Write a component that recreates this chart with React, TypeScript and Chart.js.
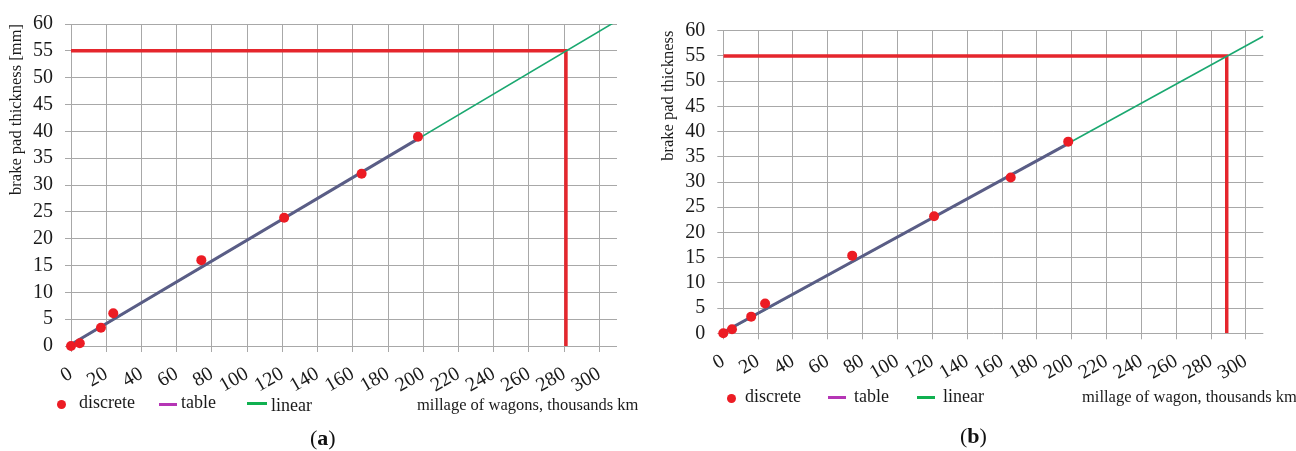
import React, { useEffect, useRef } from "react";
import { Chart, registerables } from "chart.js";

Chart.register(...registerables);

// ---------- data ----------
const xTickValues = [0, 20, 40, 60, 80, 100, 120, 140, 160, 180, 200, 220, 240, 260, 280, 300];
const yTickValues = [0, 5, 10, 15, 20, 25, 30, 35, 40, 45, 50, 55, 60];

// panel (a)
const discreteAX = [0, 5, 17, 24, 74, 121, 165, 197];
const discreteAY = [0, 0.5, 3.4, 6.1, 16, 23.9, 32.1, 39];
const tableAX = [0, 197];
const tableAY = [0.3, 38.6];
const linearAX = [0, 310];
const linearAY = [0.2, 60.6];
const limitAX = [0, 281, 281];
const limitAY = [55, 55, 0];

// panel (b)
const discreteBX = [0, 5, 16, 24, 74, 121, 165, 198];
const discreteBY = [0, 0.8, 3.3, 5.9, 15.4, 23.2, 30.9, 38];
const tableBX = [0, 198];
const tableBY = [0.2, 37.6];
const linearBX = [0, 310];
const linearBY = [0.1, 58.9];
const limitBX = [0, 289, 289];
const limitBY = [55, 55, 0];

const legendLabels = ["discrete", "table", "linear"];

// ---------- styles ----------
const SERIF = '"Liberation Serif", "Times New Roman", serif';
const RED = "#ec1c24";
const RED_LINE = "#e5262d";
const SLATE = "#5a5d86";
const GREEN = "#1aa870";
const LEG_MAGENTA = "#b535b5";
const LEG_GREEN = "#10b050";
const GRID = "#a8a8a8";

const pts = (xs: number[], ys: number[]) => xs.map((x, i) => ({ x, y: ys[i] }));

type PanelProps = {
  left: number;
  dx: number[]; dy: number[];
  tx: number[]; ty: number[];
  lx: number[]; ly: number[];
  rx: number[]; ry: number[];
  yTitle: string;
  yW: number; padRight: number; padTop: number; xH: number; titlePad: number;
};

function Panel(p: PanelProps) {
  const ref = useRef<HTMLCanvasElement | null>(null);
  useEffect(() => {
    if (!ref.current) return;
    const chart = new Chart(ref.current, {
      type: "scatter",
      data: {
        datasets: [
          {
            label: legendLabels[0],
            data: pts(p.dx, p.dy),
            showLine: false,
            pointRadius: 5,
            pointBackgroundColor: RED,
            pointBorderWidth: 0,
            backgroundColor: RED,
            clip: false,
          },
          {
            label: legendLabels[1],
            data: pts(p.tx, p.ty),
            showLine: true,
            borderColor: SLATE,
            borderWidth: 3,
            pointRadius: 0,
          },
          {
            label: legendLabels[2],
            data: pts(p.lx, p.ly),
            showLine: true,
            borderColor: GREEN,
            borderWidth: 1.6,
            pointRadius: 0,
          },
          {
            label: "limit",
            data: pts(p.rx, p.ry),
            showLine: true,
            borderColor: RED_LINE,
            borderWidth: 3.5,
            pointRadius: 0,
            borderCapStyle: "butt",
          },
        ],
      },
      options: {
        animation: false,
        responsive: false,
        maintainAspectRatio: false,
        events: [],
        layout: { padding: { left: 0, right: p.padRight, top: p.padTop, bottom: 0 } },
        plugins: { legend: { display: false }, tooltip: { enabled: false } },
        scales: {
          x: {
            type: "linear",
            min: 0,
            max: 310,
            afterBuildTicks: (s: any) => {
              s.ticks = xTickValues.map((v) => ({ value: v }));
            },
            afterFit: (s: any) => {
              s.height = p.xH;
            },
            grid: { color: GRID, lineWidth: 1, tickLength: 6, drawTicks: true },
            border: { display: false },
            ticks: {
              font: { family: SERIF, size: 20 },
              color: "#1a1a1a",
              minRotation: 30,
              maxRotation: 30,
              padding: 10,
              autoSkip: false,
            },
          },
          y: {
            type: "linear",
            min: 0,
            max: 60,
            afterBuildTicks: (s: any) => {
              s.ticks = yTickValues.map((v) => ({ value: v }));
            },
            afterFit: (s: any) => {
              s.width = p.yW;
            },
            grid: { color: GRID, lineWidth: 1, tickLength: 6, drawTicks: true },
            border: { display: false },
            title: {
              display: true,
              text: p.yTitle,
              align: "end",
              font: { family: SERIF, size: 16.5 },
              color: "#1a1a1a",
              padding: { top: p.titlePad, bottom: 0 },
            },
            ticks: {
              font: { family: SERIF, size: 20 },
              color: "#1a1a1a",
              padding: 12,
              autoSkip: false,
            },
          },
        },
      },
    } as any);
    return () => chart.destroy();
  }, []);
  return (
    <canvas
      ref={ref}
      width={648}
      height={451}
      style={{ position: "absolute", left: p.left, top: 0, width: 648, height: 451 }}
    />
  );
}

const txt = (x: number, top: number, size: number, s: string, extra: any = {}) => (
  <div
    style={{
      position: "absolute",
      left: x,
      top,
      fontFamily: SERIF,
      fontSize: size,
      lineHeight: `${size * 1.1}px`,
      whiteSpace: "nowrap",
      color: "#1a1a1a",
      ...extra,
    }}
  >
    {s}
  </div>
);

const dot = (cx: number, cy: number) => (
  <div
    style={{
      position: "absolute",
      left: cx - 4.5,
      top: cy - 4.5,
      width: 9,
      height: 9,
      borderRadius: "50%",
      background: RED,
    }}
  />
);

const bar = (x1: number, x2: number, y: number, color: string) => (
  <div
    style={{
      position: "absolute",
      left: x1,
      top: y - 1.5,
      width: x2 - x1,
      height: 3,
      background: color,
    }}
  />
);

export default function App() {
  return (
    <div
      style={{
        position: "absolute",
        left: 0,
        top: 0,
        width: 1296,
        height: 451,
        overflow: "hidden",
        background: "#ffffff",
      }}
    >
      <Panel
        left={0}
        dx={discreteAX} dy={discreteAY}
        tx={tableAX} ty={tableAY}
        lx={linearAX} ly={linearAY}
        rx={limitAX} ry={limitAY}
        yTitle="brake pad thickness [mm]"
        yW={71} padRight={31} padTop={22.7} xH={105} titlePad={7}
      />
      <Panel
        left={648}
        dx={discreteBX} dy={discreteBY}
        tx={tableBX} ty={tableBY}
        lx={linearBX} ly={linearBY}
        rx={limitBX} ry={limitBY}
        yTitle="brake pad thickness"
        yW={75.3} padRight={32.7} padTop={30.7} xH={117.7} titlePad={11}
      />

      {/* legend (a) */}
      {dot(61.5, 404)}
      {txt(79, 393, 18, legendLabels[0])}
      {bar(159, 177, 404, LEG_MAGENTA)}
      {txt(181, 393, 18, legendLabels[1])}
      {bar(247, 267, 403.5, LEG_GREEN)}
      {txt(271, 395.5, 18, legendLabels[2])}
      {txt(417, 396.3, 16.5, "millage of wagons, thousands km")}

      {/* legend (b) */}
      {dot(731, 398.3)}
      {txt(745, 386.7, 18, legendLabels[0])}
      {bar(828, 846, 397.7, LEG_MAGENTA)}
      {txt(854, 386.7, 18, legendLabels[1])}
      {bar(917, 935, 397.7, LEG_GREEN)}
      {txt(943, 387, 18, legendLabels[2])}
      {txt(1082, 388.3, 16.5, "millage of wagon, thousands km")}

      {/* panel labels */}
      <div style={{ position: "absolute", left: 310, top: 426, fontFamily: SERIF, fontSize: 22, lineHeight: "24px", color: "#111" }}>
        (<b>a</b>)
      </div>
      <div style={{ position: "absolute", left: 960, top: 424, fontFamily: SERIF, fontSize: 22, lineHeight: "24px", color: "#111" }}>
        (<b>b</b>)
      </div>
    </div>
  );
}
